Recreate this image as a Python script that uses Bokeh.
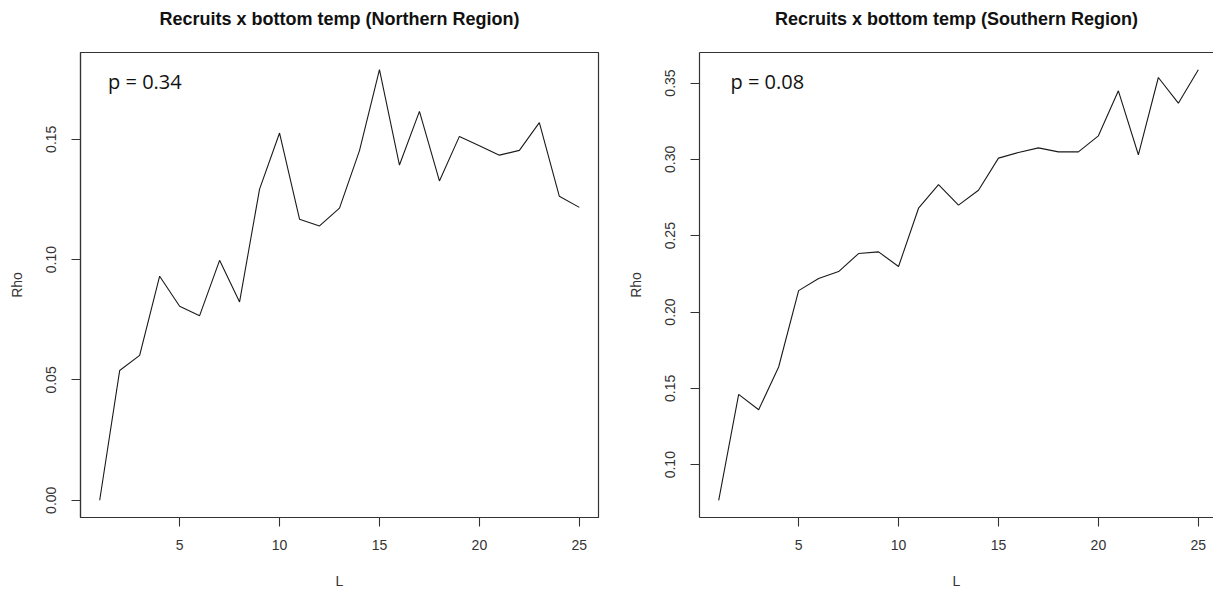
from bokeh.plotting import figure
from bokeh.layouts import row
from bokeh.models import FixedTicker, Label, LinearAxis, Range1d, NumeralTickFormatter, Title
from bokeh.embed import file_html
from bokeh.resources import INLINE

# ---------------- data ----------------
lags = list(range(1, 26))
rho_north = [0.000, 0.0539, 0.0602, 0.0931, 0.0806, 0.0767, 0.0997, 0.0824, 0.1293,
             0.1526, 0.1168, 0.1140, 0.1214, 0.1453, 0.1789, 0.1393, 0.1616, 0.1327,
             0.1512, 0.1473, 0.1434, 0.1454, 0.1569, 0.1263, 0.1217]
rho_south = [0.0767, 0.1461, 0.1360, 0.1640, 0.2140, 0.2219, 0.2265, 0.2383, 0.2394,
             0.2298, 0.2680, 0.2835, 0.2700, 0.2798, 0.3008, 0.3045, 0.3075, 0.3049,
             0.3049, 0.3154, 0.3449, 0.3030, 0.3536, 0.3368, 0.3587]
x_ticks = [5, 10, 15, 20, 25]
north_y_ticks = [0.00, 0.05, 0.10, 0.15]
south_y_ticks = [0.10, 0.15, 0.20, 0.25, 0.30, 0.35]
title_north = "Recruits x bottom temp (Northern Region)"
title_south = "Recruits x bottom temp (Southern Region)"
p_north = "p = 0.34"
p_south = "p = 0.08"
x_label = "L"
y_label = "Rho"

FONT = "Liberation Sans"
HEIGHT = 592
BORDER_TOP = 52
BORDER_BOTTOM = 75


def r_range(vals):
    lo, hi = min(vals), max(vals)
    pad = 0.04 * (hi - lo)
    return lo - pad, hi + pad


def make_panel(xs, ys, title, ptext, p_x, p_y, yticks, width, bl, br,
               x_end=None, full_box=True, gap=10.5):
    x0, x1 = r_range(xs)
    if x_end is not None:
        x1 = x_end
    y0, y1 = r_range(ys)
    p = figure(width=width, height=HEIGHT, output_backend="svg", title=None,
               toolbar_location=None, x_range=Range1d(x0, x1),
               y_range=Range1d(y0, y1), x_axis_label=x_label,
               y_axis_label=y_label, min_border_left=bl, min_border_right=br,
               min_border_top=BORDER_TOP, min_border_bottom=BORDER_BOTTOM)
    p.grid.visible = False
    p.background_fill_color = "white"
    p.border_fill_color = "white"

    xax = p.below[0]
    yax = p.left[0]
    for ax in (xax, yax):
        ax.axis_line_color = "#333333"
        ax.axis_line_width = 1.2
        ax.major_tick_line_color = "#333333"
        ax.major_tick_line_width = 1.1
        ax.major_tick_out = 9
        ax.major_tick_in = 0
        ax.minor_tick_line_color = None
        ax.major_label_text_font = FONT
        ax.major_label_text_font_size = "14px"
        ax.major_label_text_color = "#333333"
        ax.axis_label_text_font = FONT
        ax.axis_label_text_font_size = "14px"
        ax.axis_label_text_font_style = "normal"
        ax.axis_label_text_color = "#333333"

    xax.ticker = FixedTicker(ticks=x_ticks)
    xax.major_label_standoff = 13
    xax.axis_label_standoff = 20
    yax.ticker = FixedTicker(ticks=yticks)
    yax.formatter = NumeralTickFormatter(format="0.00")
    yax.major_label_orientation = "vertical"
    yax.major_label_standoff = 15
    yax.axis_label_standoff = 19

    if full_box:
        p.outline_line_color = "#333333"
        p.outline_line_width = 1.2
    else:
        p.outline_line_color = None
        top = LinearAxis(ticker=FixedTicker(ticks=[]), major_tick_out=0,
                         major_tick_in=0, minor_tick_out=0, minor_tick_in=0,
                         major_label_text_font_size="0px", major_label_standoff=0,
                         axis_line_color="#333333", axis_line_width=1.2)
        p.add_layout(top, "above")

    # blank spacer between the plot box and the title, then the title itself
    p.add_layout(Title(text=" ", text_font_size="10px", standoff=gap), "above")
    p.add_layout(Title(text=title, text_font=FONT, text_font_style="bold",
                       text_font_size="18px", text_color="#111111",
                       align="center", standoff=0), "above")

    p.line(xs, ys, line_color="#1a1a1a", line_width=1.1)

    p.add_layout(Label(x=p_x, y=p_y, text=ptext, text_font="Open Sans",
                       text_font_size="20px", text_color="#111111",
                       text_align="left", text_baseline="alphabetic"))
    return p


# frame widths (px): left 518, right 514 (cropped at the window edge like the reference)
north_w, north_bl, north_br = 606, 80, 8
south_w, south_bl, south_br = 607, 93, 0
nx0, nx1 = r_range(lags)
north_frame = north_w - north_bl - north_br
south_frame = south_w - south_bl - south_br
south_x_end = nx0 + (nx1 - nx0) * south_frame / north_frame

left = make_panel(lags, rho_north, title_north, p_north, 1.42, 0.1738,
                  north_y_ticks, north_w, north_bl, north_br)
right = make_panel(lags, rho_south, title_south, p_south, 1.59, 0.3513,
                   south_y_ticks, south_w, south_bl, south_br,
                   x_end=south_x_end, full_box=False)

layout = row(left, right)
open("out.html", "w").write(file_html(layout, INLINE))
